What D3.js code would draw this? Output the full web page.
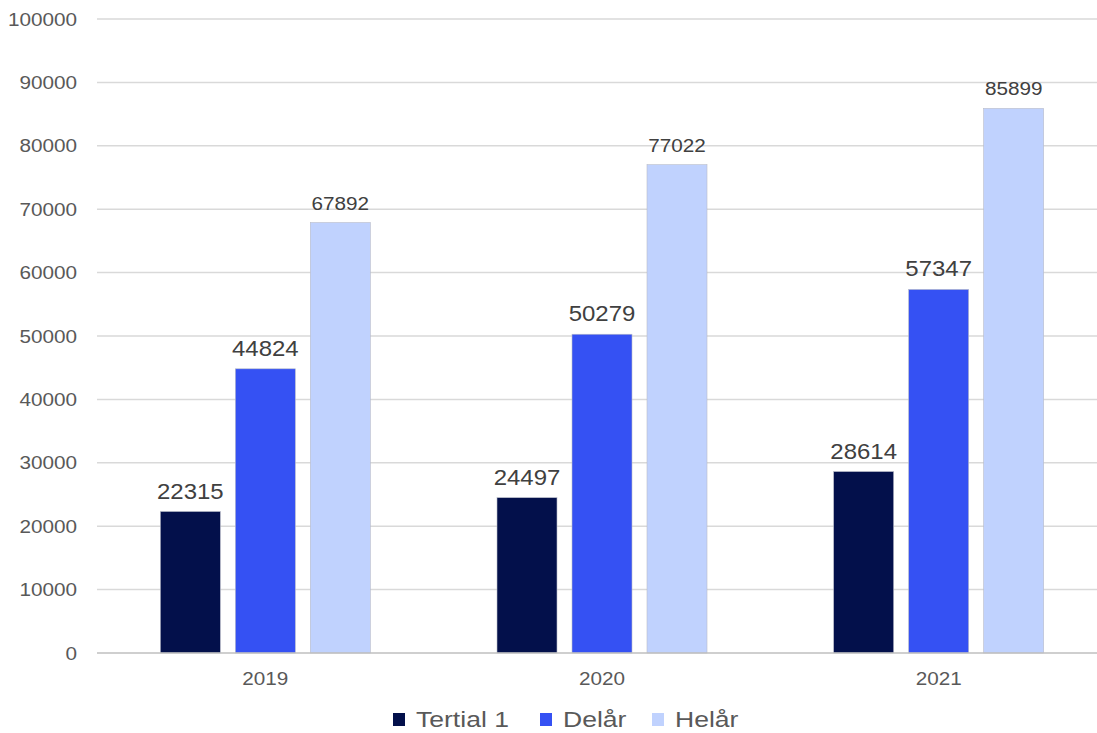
<!DOCTYPE html>
<html>
<head>
<meta charset="utf-8">
<script src="https://cdn.jsdelivr.net/npm/d3@7"></script>
<style>
  body { margin: 0; background: #fff; }
  text { font-family: "Liberation Sans", Arial, sans-serif; }
</style>
</head>
<body>
<div id="chart"></div>
<script>
'use strict';

// data
var years  = ["2019", "2020", "2021"];
var series = ["Tertial 1", "Delår", "Helår"];
var tertial = [22315, 24497, 28614];
var delar   = [44824, 50279, 57347];
var helar   = [67892, 77022, 85899];
var yTicks  = [0, 10000, 20000, 30000, 40000, 50000, 60000, 70000, 80000, 90000, 100000];
var colors  = ["#03104b", "#3551f3", "#c0d2fe"];

var values = [tertial, delar, helar];

var W = 1097, H = 733;
var margin = {top: 19, right: 0, bottom: 80, left: 97};
var plotW = 1010, plotH = H - margin.top - margin.bottom;

// text in the reference is a bit wider than Liberation Sans, stretch it
function stretch(sel, sx, fx, fy) {
    sel.attr("x", 0).attr("y", 0)
        .attr("transform", function(d, i) {
            return "translate(" + fx(d, i) + "," + fy(d, i) + ") scale(" + sx + ",1)";
        });
}

var svg = d3.select("#chart").append("svg")
    .attr("width", W).attr("height", H);

var g = svg.append("g")
    .attr("transform", "translate(" + margin.left + "," + margin.top + ")");

var y = d3.scaleLinear().domain([0, 100000]).range([plotH, 0]);
var x0 = d3.scaleBand().domain(years).range([0, plotW]).padding(0);
var x1 = d3.scaleBand().domain(series).range([-105, 105]).paddingInner(0.2).paddingOuter(0);

// gridlines
g.append("g").selectAll("line")
    .data(yTicks.filter(function(d) { return d > 0; }))
    .enter().append("line")
    .attr("x1", 0).attr("x2", plotW)
    .attr("y1", function(d) { return y(d); })
    .attr("y2", function(d) { return y(d); })
    .attr("stroke", "#d9d9d9").attr("stroke-width", 1.5);

// y tick labels
g.append("g").selectAll("text")
    .data(yTicks)
    .enter().append("text")
    .call(stretch, 1.12, function() { return -20; }, function(d) { return y(d); })
    .attr("dy", "0.36em")
    .attr("text-anchor", "end")
    .attr("font-size", 18.5)
    .attr("fill", "#595959")
    .text(function(d) { return d; });

// bars
var groups = g.append("g").selectAll("g")
    .data(years)
    .enter().append("g")
    .attr("transform", function(d) { return "translate(" + (x0(d) + x0.bandwidth() / 2) + ",0)"; });

groups.each(function(yr, i) {
    var grp = d3.select(this);
    series.forEach(function(s, k) {
        var v = values[k][i];
        grp.append("rect")
            .attr("x", x1(s))
            .attr("y", y(v))
            .attr("width", x1.bandwidth())
            .attr("height", y(0) - y(v))
            .attr("fill", colors[k])
            .attr("stroke", "#b8bcc8").attr("stroke-width", 0.6);
        grp.append("text")
            .datum(v)
            .call(stretch, 1.09,
                  function() { return x1(s) + x1.bandwidth() / 2; },
                  function() { return y(v) - 13; })
            .attr("text-anchor", "middle")
            .attr("font-size", k === 2 ? 19 : 22)
            .attr("fill", "#404040")
            .text(v);
    });
});

// baseline
g.append("line")
    .attr("x1", 0).attr("x2", plotW)
    .attr("y1", y(0)).attr("y2", y(0))
    .attr("stroke", "#bfbfbf").attr("stroke-width", 1.5);

// x labels
g.append("g").selectAll("text")
    .data(years)
    .enter().append("text")
    .call(stretch, 1.15,
          function(d) { return x0(d) + x0.bandwidth() / 2; },
          function() { return plotH + 32; })
    .attr("text-anchor", "middle")
    .attr("font-size", 18)
    .attr("fill", "#595959")
    .text(function(d) { return d; });

// legend
var legX = [393, 540, 652];
var leg = svg.append("g").selectAll("g")
    .data(series)
    .enter().append("g")
    .attr("transform", function(d, i) { return "translate(" + legX[i] + ",713)"; });
leg.append("rect")
    .attr("width", 12).attr("height", 13)
    .attr("fill", function(d, i) { return colors[i]; });
leg.append("text")
    .call(stretch, 1.18, function() { return 23; }, function() { return 14; })
    .attr("font-size", 22.5)
    .attr("fill", "#595959")
    .text(function(d) { return d; });
</script>
</body>
</html>
